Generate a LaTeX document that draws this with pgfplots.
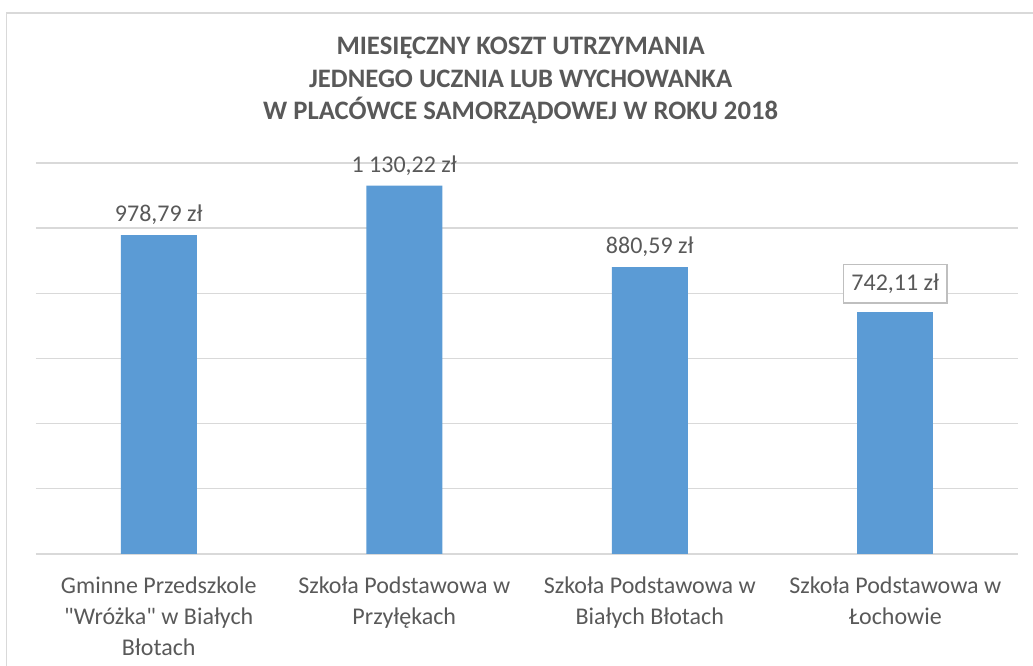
\documentclass[border=0pt]{standalone}
\usepackage{pgfplots}
\pgfplotsset{compat=1.18}
\usepackage{pgfplotstable}
\usepackage{fontspec}
\setmainfont{Carlito}[Ligatures=TeXOff]
\definecolor{barblue}{HTML}{5B9BD5}
\definecolor{txt}{HTML}{595959}
\definecolor{gridc}{HTML}{D9D9D9}
\definecolor{boxc}{HTML}{BFBFBF}
\pgfplotstableread{
x y label
0 978.79 {978,79 zł}
1 1130.22 {1 130,22 zł}
2 880.59 {880,59 zł}
}\mainbars
\pgfplotstableread{
x y label
3 742.11 {742,11 zł}
}\lastbar
\begin{document}
\begin{tikzpicture}
\useasboundingbox (0pt,0pt) rectangle (774.75pt,499.5pt);
\draw[gridc, line width=1.2pt] (4.875pt,0pt) -- (4.875pt,489.75pt) -- (774.75pt,489.75pt);
\node[text=txt, font=\fontsize{20}{24.4}\selectfont\bfseries, align=center] at (390.5pt,439pt)
  {MIESIĘCZNY KOSZT UTRZYMANIA\\JEDNEGO UCZNIA LUB WYCHOWANKA\\W PLACÓWCE SAMORZĄDOWEJ W ROKU 2018};
\begin{axis}[
  at={(27pt,84pt)}, anchor=south west,
  scale only axis, width=736.5pt, height=293.25pt,
  xmin=-0.5, xmax=3.5, ymin=0, ymax=1200,
  ytick={0,200,...,1200}, yticklabels={},
  ymajorgrids, major grid style={gridc, line width=1pt},
  axis line style={draw=none}, tick style={draw=none},
  xtick={0,1,2,3},
  xticklabels={{Gminne Przedszkole\\"Wróżka" w Białych\\Błotach},{Szkoła Podstawowa w\\Przyłękach},{Szkoła Podstawowa w\\Białych Błotach},{Szkoła Podstawowa w\\Łochowie}},
  xticklabel style={align=center, text=txt, font=\fontsize{18}{23.25}\selectfont, yshift=-9pt},
  ybar, bar width=57pt, bar shift=0pt,
  point meta=explicit symbolic,
  nodes near coords,
  every node near coord/.append style={text=txt, font=\fontsize{18}{22}\selectfont, anchor=south, yshift=4pt},
]
\addplot[fill=barblue, draw=none] table[x=x, y=y, meta=label] {\mainbars};
\addplot[fill=barblue, draw=none,
  every node near coord/.append style={draw=boxc, line width=1pt, fill=white, inner xsep=6pt, minimum height=29pt, yshift=2.5pt}]
  table[x=x, y=y, meta=label] {\lastbar};
\end{axis}
\end{tikzpicture}
\end{document}
